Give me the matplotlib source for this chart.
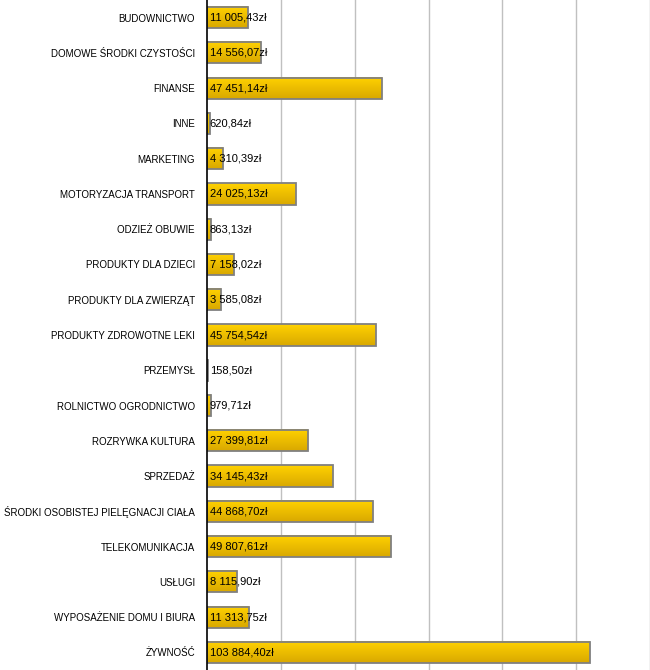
import numpy as np
import matplotlib.pyplot as plt
from matplotlib.patches import Rectangle
from matplotlib.colors import LinearSegmentedColormap

categories = ['BUDOWNICTWO', 'DOMOWE ŚRODKI CZYSTOŚCI', 'FINANSE', 'INNE', 'MARKETING',
              'MOTORYZACJA TRANSPORT', 'ODZIEŻ OBUWIE', 'PRODUKTY DLA DZIECI',
              'PRODUKTY DLA ZWIERZĄT', 'PRODUKTY ZDROWOTNE LEKI', 'PRZEMYSŁ',
              'ROLNICTWO OGRODNICTWO', 'ROZRYWKA KULTURA', 'SPRZEDAŻ',
              'ŚRODKI OSOBISTEJ PIELĘGNACJI CIAŁA', 'TELEKOMUNIKACJA', 'USŁUGI',
              'WYPOSAŻENIE DOMU I BIURA', 'ŻYWNOŚĆ']
values = [11005.43, 14556.07, 47451.14, 620.84, 4310.39, 24025.13, 863.13, 7158.02,
          3585.08, 45754.54, 158.50, 979.71, 27399.81, 34145.43, 44868.70, 49807.61,
          8115.90, 11313.75, 103884.40]

def fmt(v):
    s = '{:,.2f}'.format(v).replace(',', ' ').replace('.', ',')
    return s + 'zł'

plt.rcParams['font.family'] = ['Liberation Sans', 'DejaVu Sans']
fig = plt.figure(figsize=(6.5, 6.7), dpi=100)
ax = fig.add_axes([207.5/650, 0, (649.5-207.5)/650, 1])

n = len(categories)
y = np.arange(n)
h = 0.6
grad = np.linspace(0, 1, 32).reshape(-1, 1)
cmap = LinearSegmentedColormap.from_list('gold', ['#FFD200', '#D9A800'])

for i in range(n):
    v = values[i]
    ax.imshow(grad, extent=[0, v, y[i]+h/2, y[i]-h/2], aspect='auto', cmap=cmap,
              origin='upper', zorder=2, interpolation='bilinear')
    r = Rectangle((0, y[i]-h/2), v, h, facecolor='none', edgecolor='#808080', linewidth=1.3, zorder=3)
    ax.add_patch(r)
    ax.text(600, y[i], fmt(v), va='center', ha='left', fontsize=8, color='black', zorder=4)

ax.set_xlim(0, 120000)
ax.set_ylim(n-0.5, -0.5)
ax.set_xticks(np.arange(20000, 120001, 20000))
ax.xaxis.grid(True, color='#C0C0C0', linewidth=1)
ax.set_axisbelow(True)
ax.tick_params(axis='x', length=0, labelbottom=False)
ax.set_yticks(y)
ax.set_yticklabels(categories, fontsize=7.0)
ax.tick_params(axis='y', length=0, pad=9)
for s in ['top', 'right', 'bottom']:
    ax.spines[s].set_visible(False)
ax.spines['left'].set_color('black')
ax.spines['left'].set_linewidth(1.2)
ax.spines['left'].set_zorder(5)

plt.savefig('out.png', dpi=100)
